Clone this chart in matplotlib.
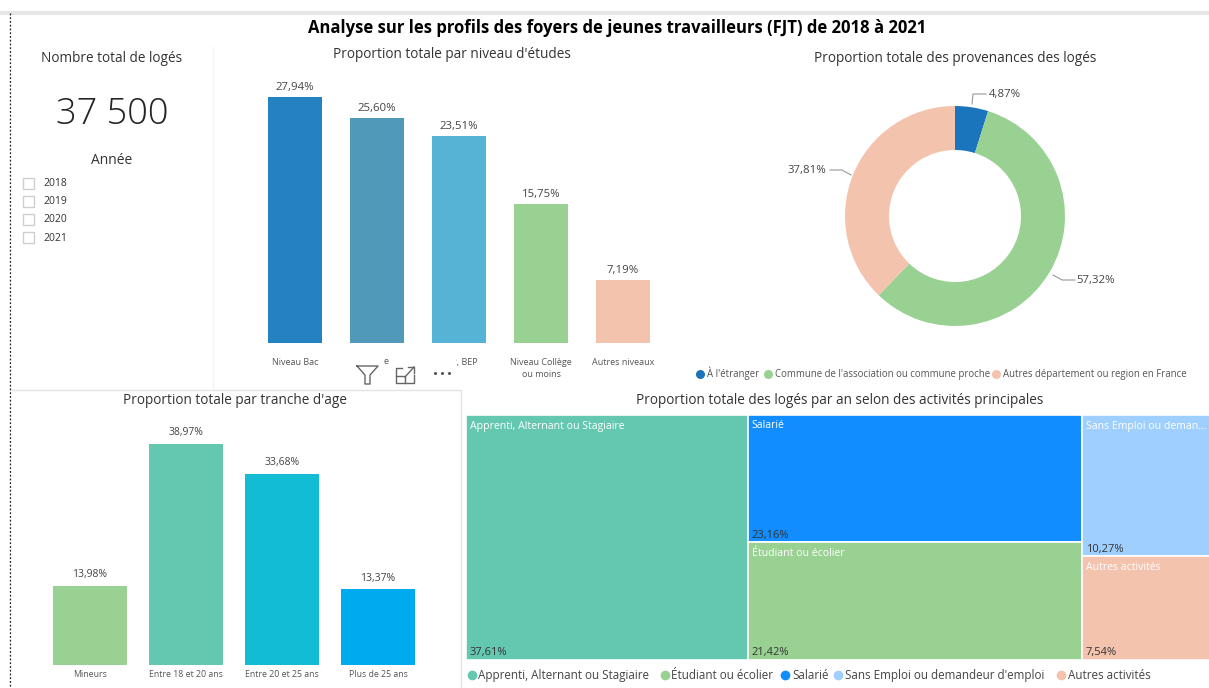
import matplotlib
matplotlib.use("Agg")
import matplotlib.pyplot as plt
from matplotlib.patches import Rectangle

W, H = 1209, 688
plt.rcParams['font.family'] = ['Open Sans', 'DejaVu Sans']

# donnees
niveaux = ["Niveau Bac", "", "CAP, BEP", "Niveau Collège\nou moins", "Autres niveaux"]
niveaux_val = [27.94, 25.60, 23.51, 15.75, 7.19]
niveaux_col = ["#2581C2", "#5099B8", "#55B3D6", "#99D193", "#F4C3AE"]

ages = ["Mineurs", "Entre 18 et 20 ans", "Entre 20 et 25 ans", "Plus de 25 ans"]
ages_val = [13.98, 38.97, 33.68, 13.37]
ages_col = ["#99D193", "#64C7B0", "#12BDD4", "#00AAEF"]

prov = ["À l'étranger", "Commune de l'association ou commune proche", "Autres département ou region en France"]
prov_val = [4.87, 57.32, 37.81]
prov_col = ["#1A75BC", "#99D193", "#F4C3AE"]

activites = ["Apprenti, Alternant ou Stagiaire", "Salarié", "Étudiant ou écolier", "Sans Emploi ou deman...", "Autres activités"]
activites_val = [37.61, 23.16, 21.42, 10.27, 7.54]
activites_col = ["#64C7B0", "#118DFF", "#99D193", "#9FCFFF", "#F4C3AE"]

annees = ["2018", "2019", "2020", "2021"]


def fr(v):
    return "{:.2f}%".format(v).replace(".", ",")


def px_axes(x0, y0, x1, y1, **kw):
    # axes place en pixels, y compte depuis le haut
    return fig.add_axes([x0 / W, 1 - y1 / H, (x1 - x0) / W, (y1 - y0) / H], **kw)


def bar_chart(ax, labels, vals, cols, ymax, width, fs_tick, fs_val, pad, off):
    x = range(len(vals))
    ax.bar(x, vals, width=width, color=cols)
    ax.set_xlim(-0.5, len(vals) - 0.5)
    ax.set_ylim(0, ymax)
    ax.set_yticks([])
    ax.set_xticks(list(x))
    ax.set_xticklabels(labels, fontsize=fs_tick, color="#555555", linespacing=1.35)
    ax.tick_params(axis="x", length=0, pad=pad)
    for s in ax.spines.values():
        s.set_visible(False)
    ax.patch.set_alpha(0)
    for i, v in zip(x, vals):
        ax.annotate(fr(v), (i, v), xytext=(0, off), textcoords="offset points",
                    ha="center", va="bottom", fontsize=fs_val, color="#444444")


fig = plt.figure(figsize=(W / 100, H / 100), dpi=100, facecolor="white")

# graphique niveaux d'etudes
ax1 = px_axes(254, 60, 664, 343)
bar_chart(ax1, niveaux, niveaux_val, niveaux_col, 32.16, 0.67, 6.5, 8.2, 11, 3)

# graphique ages
ax2 = px_axes(42, 420, 426, 665)
bar_chart(ax2, ages, ages_val, ages_col, 43.2, 0.77, 6.3, 7.5, 3.5, 4)

# anneau
ax3 = px_axes(845, 106, 1065, 326)
ax3.pie(prov_val, colors=prov_col, startangle=90, counterclock=False, radius=1,
        wedgeprops=dict(width=0.4))
ax3.set_xlim(-1, 1)
ax3.set_ylim(-1, 1)

# treemap, coupee a droite par le bord de l'image
ax4 = px_axes(466, 415, 1215, 660)
ax4.set_xlim(0, 100)
ax4.set_ylim(100, 0)
ax4.axis("off")
total = sum(activites_val)
colonnes = [[0], [1, 2], [3, 4]]
x0 = 0
for col in colonnes:
    part = sum(activites_val[i] for i in col)
    w = part / total * 100
    y0 = 0
    for i in col:
        h = activites_val[i] / part * 100
        ax4.add_patch(Rectangle((x0, y0), w, h, facecolor=activites_col[i], edgecolor="white", lw=1.2))
        ax4.annotate(activites[i], (x0, y0), xytext=(4, -11), textcoords="offset pixels",
                     color="white", fontsize=7.6, va="center")
        ax4.annotate(fr(activites_val[i]), (x0, y0 + h), xytext=(4, 7), textcoords="offset pixels",
                     color="#333333", fontsize=8, va="center")
        y0 += h
    x0 += w

# fond en pixels : titres, cadres, filtres, legendes
ov = fig.add_axes([0, 0, 1, 1], zorder=5)
ov.set_xlim(0, W)
ov.set_ylim(H, 0)
ov.axis("off")
ov.patch.set_alpha(0)

ov.plot([0, W], [13, 13], color="#E6E6E6", lw=3)
ov.plot([10, 10], [13, H], color="#222222", lw=0.9, ls=(0, (1.5, 1.5)))
ov.plot([12, 461, 461], [390, 390, H], color="#E4E4E4", lw=1)
ov.plot([213, 213], [47, 388], color="#F3F3F3", lw=1)

ov.text(617, 28, "Analyse sur les profils des foyers de jeunes travailleurs (FJT) de 2018 à 2021",
        ha="center", va="center", fontsize=12, fontweight="bold", color="black")
for tx, ty, s in [(112, 59, "Nombre total de logés"), (452, 54, "Proportion totale par niveau d'études"),
                  (955, 59, "Proportion totale des provenances des logés"),
                  (235, 401, "Proportion totale par tranche d'age"),
                  (840, 401, "Proportion totale des logés par an selon des activités principales")]:
    ov.text(tx, ty, s, ha="center", va="center", fontsize=9.8, color="#333333")

ov.text(112, 115, "37 500", ha="center", va="center", fontsize=26, color="#252423", fontweight="light")
ov.text(112, 161, "Année", ha="center", va="center", fontsize=10, color="#333333")
for k, a in enumerate(annees):
    yy = 183 + k * 18.2
    ov.add_patch(Rectangle((23, yy - 5.5), 11, 11, facecolor="white", edgecolor="#CFCFCF", lw=1))
    ov.text(43, yy + 0.5, a, va="center", fontsize=7.5, color="#333333")

# etiquettes de l'anneau
ov.text(1005, 94, fr(prov_val[0]), ha="center", va="center", fontsize=8.2, color="#444444")
ov.text(807, 171, fr(prov_val[2]), ha="center", va="center", fontsize=8.2, color="#444444")
ov.text(1096, 280, fr(prov_val[1]), ha="center", va="center", fontsize=8.2, color="#444444")
ov.plot([972, 973, 986], [104, 94, 94], color="#999999", lw=0.8)
ov.plot([830, 842, 851], [170, 170, 175], color="#999999", lw=0.8)
ov.plot([1053, 1062, 1075], [275, 280, 280], color="#999999", lw=0.8)

# legende anneau
for cx, tx, s, c in zip([700, 768, 996], [707, 775, 1003], prov, prov_col):
    ov.plot(cx, 374, "o", ms=6.5, color=c, mew=0)
    ov.text(tx, 377, s, va="baseline", fontsize=6.9, color="#555555")

# legende treemap
leg_ordre = [0, 2, 1, 3, 4]
leg_txt = ["Apprenti, Alternant ou Stagiaire", "Étudiant ou écolier", "Salarié",
           "Sans Emploi ou demandeur d'emploi", "Autres activités"]
for cx, tx, s, i in zip([472, 665, 785, 838, 1061], [478, 671, 792, 845, 1068], leg_txt, leg_ordre):
    ov.plot(cx, 675, "o", ms=7, color=activites_col[i], mew=0)
    ov.text(tx, 679, s, va="baseline", fontsize=8.4, color="#444444")

# barre d'outils au survol, cache une partie des etiquettes
ov.add_patch(Rectangle((350, 352), 106, 34, facecolor="white", edgecolor="none"))
ov.text(386, 361, "e", ha="center", va="center", fontsize=6.5, color="#555555")
ov.plot([357, 378, 370, 370, 365, 365, 357], [366, 366, 375, 384, 384, 375, 366], color="#666666", lw=1)
ov.plot([402, 396, 396, 414, 414], [368, 368, 383, 383, 375], color="#666666", lw=1)
ov.plot([396, 405, 405], [376, 376, 383], color="#666666", lw=1)
ov.plot([405, 414], [377, 367], color="#666666", lw=1)
ov.plot([408, 414, 414], [367, 367, 373], color="#666666", lw=1)
ov.plot([435, 442, 449], [373, 373, 373], "o", ms=2.2, color="#555555", mew=0)

fig.savefig("out.png", dpi=100)
